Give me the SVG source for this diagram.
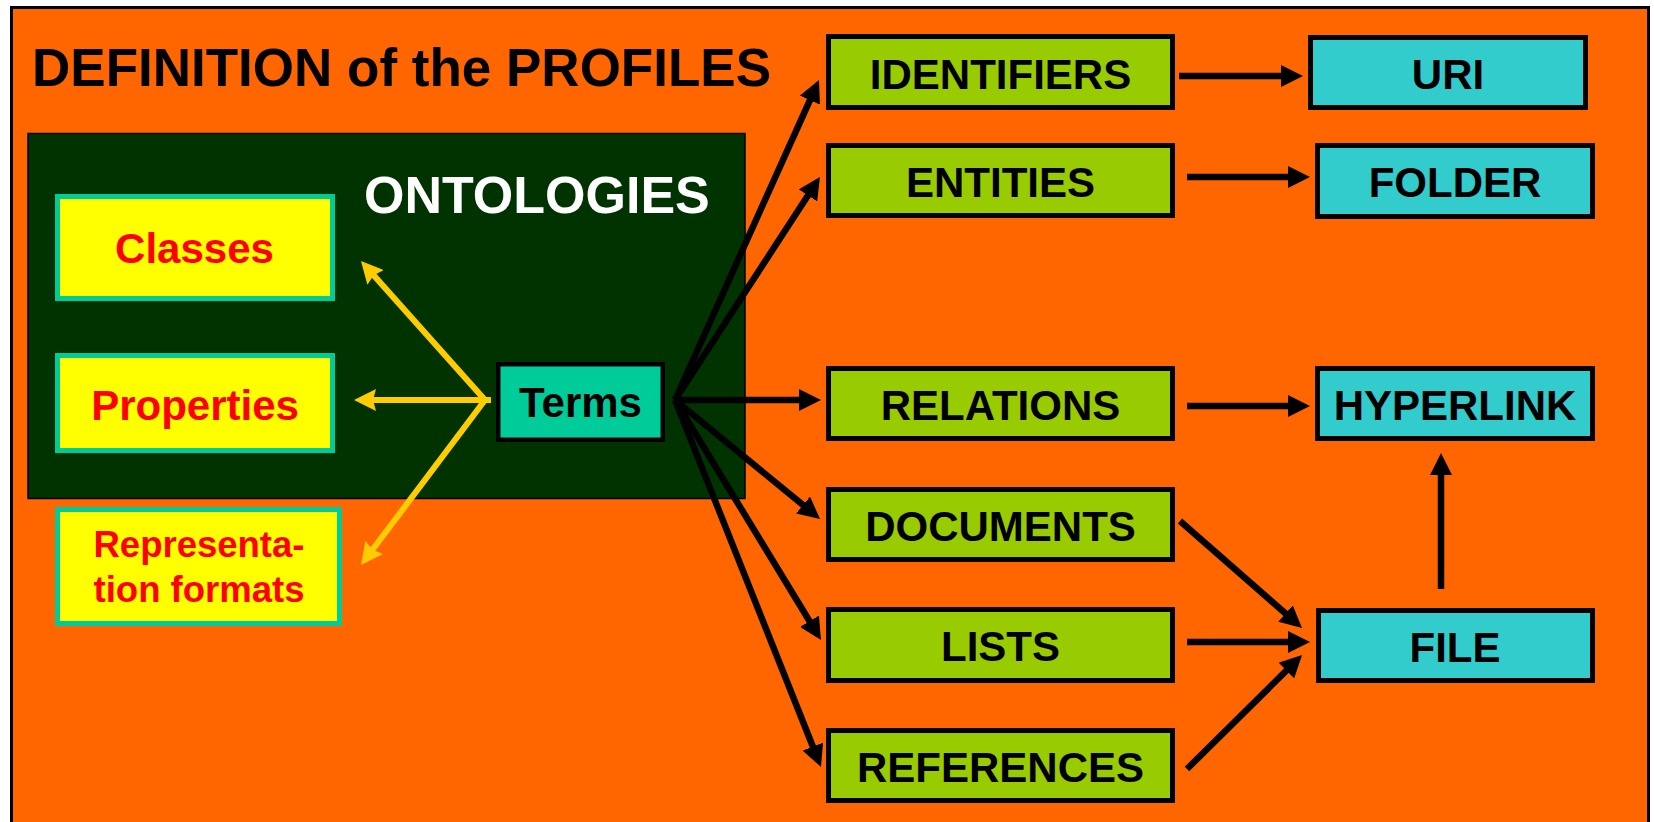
<svg xmlns="http://www.w3.org/2000/svg" width="1654" height="822" viewBox="0 0 1654 822">
<style>
text{font-family:"Liberation Sans",Arial,sans-serif;font-weight:bold}
.lbl{font-size:42px;fill:#000;text-anchor:middle}
.red{fill:#FF0000;text-anchor:middle}
.gbox{fill:#99CC00;stroke:#000;stroke-width:5}
.bbox{fill:#33CCCC;stroke:#000;stroke-width:5}
.ybox{fill:#FFFF00;stroke:#00CC99;stroke-width:5}
.blk{stroke:#000;stroke-width:6.5;fill:none;marker-end:url(#ah)}
.yel{stroke:#FFCC00;stroke-width:6;fill:none}
.yela{marker-end:url(#ahy)}
</style>
<defs>
<marker id="ah" viewBox="0 0 22 22" refX="8" refY="11" markerWidth="22" markerHeight="22" markerUnits="userSpaceOnUse" orient="auto"><path d="M0,0 L22,11 L0,22 z" fill="#000"/></marker>
<marker id="ahy" viewBox="0 0 22 22" refX="8" refY="11" markerWidth="22" markerHeight="22" markerUnits="userSpaceOnUse" orient="auto"><path d="M0,0 L22,11 L0,22 L3,11 z" fill="#FFCC00"/></marker>
</defs>
<rect x="0" y="0" width="1654" height="822" fill="#FFFFFF"/>
<rect id="frame" x="11.5" y="7.5" width="1637" height="830" fill="#FF6600" stroke="#000" stroke-width="3"/>
<text id="title" x="32" y="86" font-size="53" fill="#000">DEFINITION of the PROFILES</text>
<g id="ontologies">
<rect x="28" y="133.5" width="717" height="365" fill="#003300" stroke="#000" stroke-width="1.5"/>
<text x="364" y="213" font-size="52" fill="#FFFFFF">ONTOLOGIES</text>
</g>
<g id="classes"><rect class="ybox" x="57.5" y="196.5" width="275" height="102"/><text class="red" x="194.5" y="263" font-size="42">Classes</text></g>
<g id="properties"><rect class="ybox" x="57.5" y="355.5" width="275" height="95"/><text class="red" x="195" y="420" font-size="42">Properties</text></g>
<g id="representation"><rect class="ybox" x="57.5" y="509.5" width="282" height="114"/><text class="red" x="199" y="557" font-size="36.5">Representa-</text><text class="red" x="199" y="602" font-size="36.5">tion formats</text></g>
<g id="terms"><rect x="498.25" y="364.25" width="164.5" height="75.5" fill="#00CC99" stroke="#000" stroke-width="4.5"/><text class="lbl" x="580.5" y="417" font-size="41">Terms</text></g>
<g id="identifiers"><rect class="gbox" x="828.5" y="36.5" width="344" height="71"/><text class="lbl" x="1000.5" y="89">IDENTIFIERS</text></g>
<g id="entities"><rect class="gbox" x="828.5" y="145.5" width="344" height="70"/><text class="lbl" x="1000.5" y="197">ENTITIES</text></g>
<g id="relations"><rect class="gbox" x="828.5" y="368.5" width="344" height="70"/><text class="lbl" x="1000.5" y="420">RELATIONS</text></g>
<g id="documents"><rect class="gbox" x="828.5" y="489.5" width="344" height="70"/><text class="lbl" x="1000.5" y="541">DOCUMENTS</text></g>
<g id="lists"><rect class="gbox" x="828.5" y="609.5" width="344" height="71"/><text class="lbl" x="1000.5" y="661">LISTS</text></g>
<g id="references"><rect class="gbox" x="828.5" y="730.5" width="344" height="70"/><text class="lbl" x="1000.5" y="782">REFERENCES</text></g>
<g id="uri"><rect class="bbox" x="1310.5" y="37.5" width="275" height="70"/><text class="lbl" x="1448" y="89">URI</text></g>
<g id="folder"><rect class="bbox" x="1317.5" y="145.5" width="275" height="71"/><text class="lbl" x="1455" y="197">FOLDER</text></g>
<g id="hyperlink"><rect class="bbox" x="1317.5" y="368.5" width="275" height="70"/><text class="lbl" x="1455" y="420">HYPERLINK</text></g>
<g id="file"><rect class="bbox" x="1318.5" y="610.5" width="274" height="70"/><text class="lbl" x="1455" y="662">FILE</text></g>
<g id="connectors">
<line class="yel" x1="491" y1="400" x2="485" y2="400"/>
<line class="yel yela" x1="485" y1="400" x2="370.3" y2="271.4"/>
<line class="yel yela" x1="491" y1="400" x2="368" y2="400"/>
<line class="yel yela" x1="485" y1="400" x2="369.4" y2="553.8"/>
<line class="blk" x1="675" y1="400" x2="813.2" y2="92.8"/>
<line class="blk" x1="675" y1="400" x2="812.3" y2="188.7"/>
<line class="blk" x1="675" y1="400" x2="807" y2="400"/>
<line class="blk" x1="675" y1="400" x2="809.2" y2="510.1"/>
<line class="blk" x1="675" y1="400" x2="813.7" y2="628"/>
<line class="blk" x1="675" y1="400" x2="815.8" y2="754"/>
<line class="blk" x1="1179" y1="76" x2="1289" y2="76"/>
<line class="blk" x1="1187" y1="177" x2="1296" y2="177"/>
<line class="blk" x1="1187" y1="406" x2="1296" y2="406"/>
<line class="blk" x1="1187" y1="642" x2="1296" y2="642"/>
<line class="blk" x1="1180" y1="521" x2="1291.5" y2="618.8"/>
<line class="blk" x1="1187" y1="769" x2="1292.1" y2="664.9"/>
<line class="blk" x1="1441" y1="589" x2="1441" y2="467"/>
</g>
</svg>
